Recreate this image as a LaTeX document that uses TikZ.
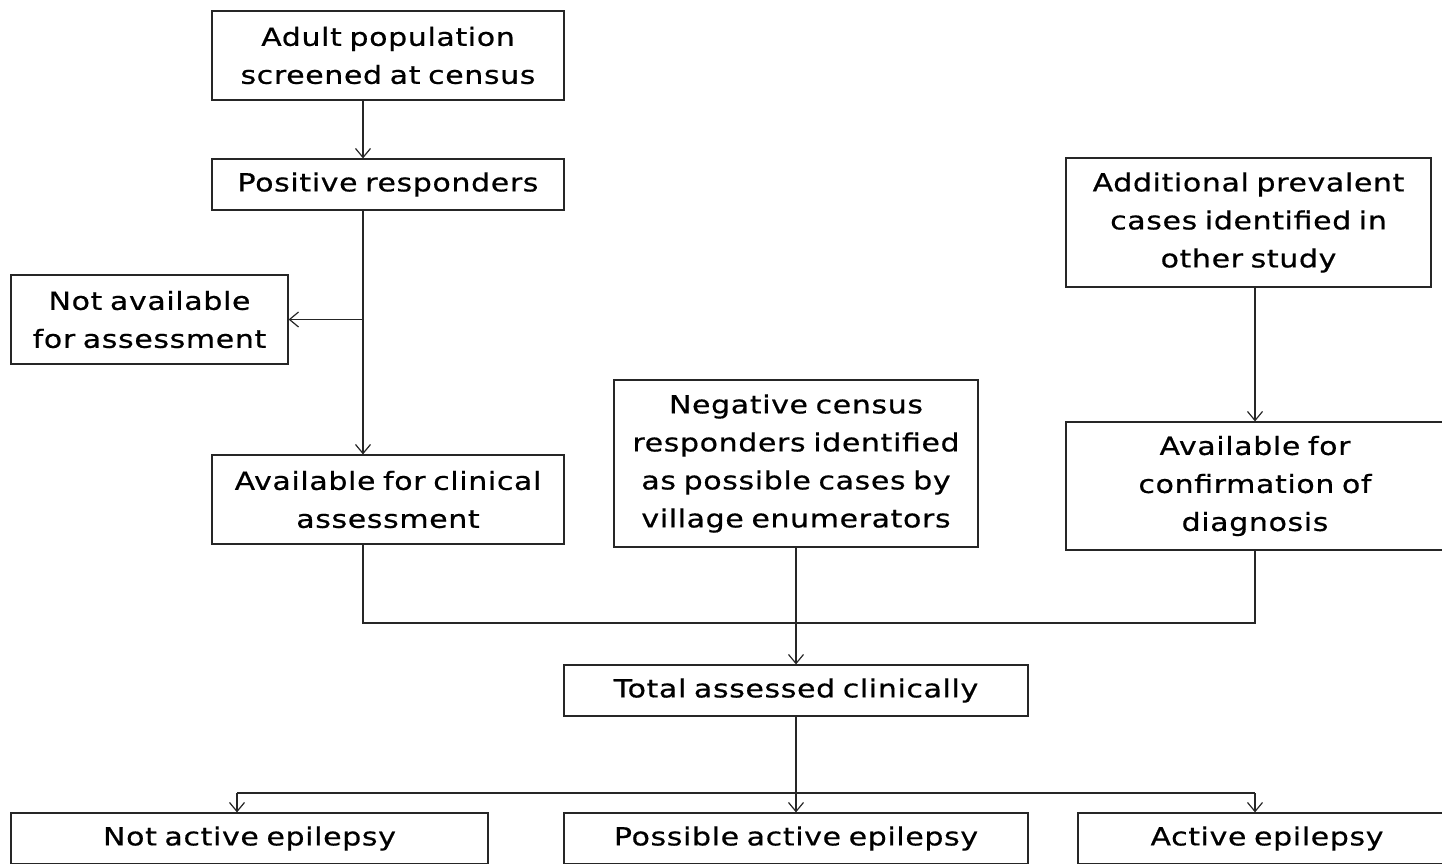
\documentclass[tikz,border=0pt]{standalone}
\usepackage{fontspec}
\setmainfont{DejaVu Sans}[FakeStretch=1.2, LetterSpace=2.5, WordSpace=0.75, FakeBold=0.6]
\usepackage{tikz}
\usetikzlibrary{arrows.meta,positioning}
\definecolor{cline}{HTML}{262626}
\tikzset{
  box/.style={draw=cline, line width=1.2pt, inner sep=0pt, align=center, fill=white, font=\fontsize{25}{38}\selectfont},
  pre/.style={-{Straight Barb[length=9pt, width=15pt]}, draw=cline, line width=1.2pt},
  conn/.style={draw=cline, line width=1.2pt},
}
\begin{document}
\begin{tikzpicture}[x=1pt,y=-1pt]
\useasboundingbox (0,0) rectangle (1442,863);
\clip (0,0) rectangle (1442,863);
\node[box, minimum width=352, minimum height=89] (adult) at (388,55.5) {Adult population\\screened at census};
\node[box, minimum width=352, minimum height=51] (positive) at (388,184.5) {Positive responders};
\node[box, minimum width=277, minimum height=89] (notavail) at (149.5,319.5) {Not available\\for assessment};
\node[box, minimum width=352, minimum height=89] (availclin) at (388,499.5) {Available for clinical\\assessment};
\node[box, minimum width=364, minimum height=167] (negative) at (796,463.5) {Negative census\\responders identified\\as possible cases by\\village enumerators};
\node[box, minimum width=365, minimum height=129] (additional) at (1248.5,222.5) {Additional prevalent\\cases identified in\\other study};
\node[box, minimum width=378, minimum height=128] (availconf) at (1255,486) {Available for\\confirmation of\\diagnosis};
\node[box, minimum width=464, minimum height=51] (total) at (796,690.5) {Total assessed clinically};
\node[box, minimum width=477, minimum height=51] (notactive) at (249.5,838.5) {Not active epilepsy};
\node[box, minimum width=464, minimum height=51] (possible) at (796,838.5) {Possible active epilepsy};
\node[box, minimum width=378, minimum height=51] (active) at (1267,838.5) {Active epilepsy};
\coordinate (sp) at (363,0);
\coordinate (ar) at (1255,0);
\coordinate (bl) at (237,0);
\coordinate (mj) at (0,623);
\coordinate (bj) at (0,793);
\draw[pre] (adult.south -| sp) -- (positive.north -| sp);
\draw[pre] (positive.south -| sp) -- (availclin.north -| sp);
\draw[pre] (notavail.east -| sp) -- (notavail.east);
\draw[pre] (additional.south -| ar) -- (availconf.north -| ar);
\draw[conn] (availclin.south -| sp) -- (sp |- mj) -- (ar |- mj) -- (availconf.south -| ar);
\draw[pre] (negative.south) -- (total.north);
\draw[conn] (total.south) -- (total.south |- bj);
\draw[conn] (bl |- bj) -- (ar |- bj);
\draw[pre] (possible.north |- bj) -- (possible.north);
\draw[pre] (bl |- bj) -- (notactive.north -| bl);
\draw[pre] (ar |- bj) -- (active.north -| ar);
\end{tikzpicture}
\end{document}
